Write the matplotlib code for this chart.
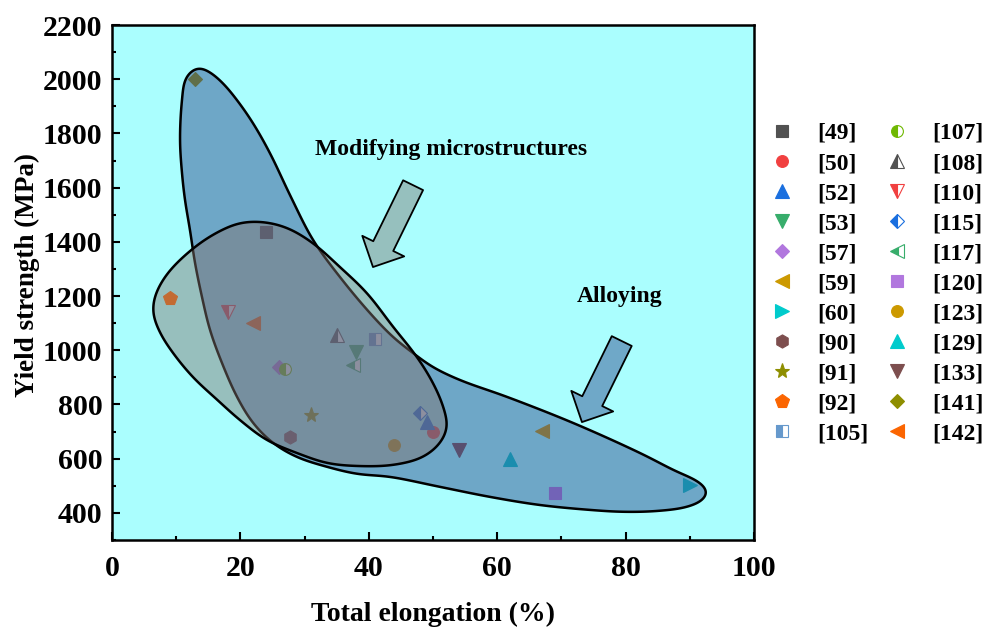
import numpy as np
import matplotlib
matplotlib.use("Agg")
import matplotlib.pyplot as plt
from matplotlib.ticker import MultipleLocator
from matplotlib.patches import Polygon, FancyArrowPatch

plt.rcParams["font.family"] = ["Liberation Serif", "DejaVu Serif"]
plt.rcParams["font.weight"] = "bold"

# --- literature data: total elongation (%) vs yield strength (MPa) ---
refs = ["[49]", "[50]", "[52]", "[53]", "[57]", "[59]", "[60]", "[90]", "[91]", "[92]", "[105]",
        "[107]", "[108]", "[110]", "[115]", "[117]", "[120]", "[123]", "[129]", "[133]", "[141]", "[142]"]
elong = [24, 50, 49, 38, 26, 67, 90, 27.7, 31, 9, 41,
         27, 35, 18, 48, 37.5, 69, 44, 62, 54, 13, 22]
strength = [1435, 700, 735, 995, 940, 702, 503, 680, 760, 1192, 1040,
            930, 1055, 1140, 770, 945, 475, 650, 600, 632, 2000, 1100]

markers = ["s", "o", "^", "v", "D", "<", ">", "h", "*", "p", "s",
           "o", "^", "v", "D", "<", "s", "o", "^", "v", "D", "<"]
colors = ["#515151", "#F14040", "#1A6FDF", "#37AD6B", "#B177DE", "#CC9900", "#00CBCC",
          "#7D4E4E", "#8E8E00", "#FB6501", "#6699CC", "#6FB802", "#515151", "#F14040",
          "#1A6FDF", "#37AD6B", "#B177DE", "#CC9900", "#00CBCC", "#7D4E4E", "#8E8E00", "#FB6501"]
fills = ["full"] * 10 + ["left"] * 6 + ["full"] * 6
sizes = {"s": 8, "D": 7.5, "o": 8.5, "*": 11, "h": 9.5, "p": 10}

# outlines of the two shaded property regions (elongation %, strength MPa)
alloy_x = [13.40, 15.26, 17.29, 19.47, 21.96, 24.61, 27.88, 31.31, 35.51, 40.19, 43.77,
           46.88, 49.98, 54.21, 61.53, 71.81, 82.24, 87.38, 91.59, 92.83, 92.06, 89.56,
           84.89, 79.60, 74.45, 66.67, 58.88, 51.09, 43.30, 38.16, 33.49, 28.82, 25.08,
           21.96, 19.47, 17.13, 15.26, 14.02, 12.93, 12.15, 11.37, 10.90, 10.59, 10.90, 11.53]
alloy_y = [2044, 2026, 1985, 1923, 1838, 1727, 1565, 1407, 1270, 1137, 1049,
           990, 938, 890, 828, 732, 621, 559, 511, 477, 448, 422,
           407, 404, 411, 429, 459, 496, 533, 544, 570, 606, 658,
           732, 828, 953, 1075, 1196, 1322, 1443, 1554, 1654, 1775, 1923, 2008]
modif_x = [23.5, 27.3, 31.3, 35.5, 39.7, 43.8, 47.5, 50.0, 51.6, 52.2, 51.1, 48.4, 43.8,
           38.2, 33.5, 28.8, 24.1, 19.9, 16.4, 12.6, 9.5, 7.5, 6.4, 6.7, 8.6, 12.6, 16.4, 19.9]
modif_y = [1473, 1451, 1395, 1307, 1211, 1086, 975, 879, 791, 717, 658, 606, 577,
           573, 584, 621, 669, 743, 817, 901, 990, 1064, 1137, 1200, 1282, 1375, 1435, 1469]

# approximate screen units per data unit, so the spline is built in an isotropic space
SX, SY = 6.42, 0.271


def closed_curve(xs, ys, n=30, alpha=0.5, sigma=6.0, m=1200):
    """Closed centripetal Catmull-Rom spline, lightly smoothed along its arc length."""
    pts = np.column_stack([np.asarray(xs) * SX, np.asarray(ys) * SY])
    N = len(pts)
    out = []
    for i in range(N):
        p0, p1, p2, p3 = pts[i - 1], pts[i], pts[(i + 1) % N], pts[(i + 2) % N]
        t0 = 0.0
        t1 = t0 + np.linalg.norm(p1 - p0) ** alpha
        t2 = t1 + np.linalg.norm(p2 - p1) ** alpha
        t3 = t2 + np.linalg.norm(p3 - p2) ** alpha
        t = np.linspace(t1, t2, n, endpoint=False)[:, None]
        a1 = (t1 - t) / (t1 - t0) * p0 + (t - t0) / (t1 - t0) * p1
        a2 = (t2 - t) / (t2 - t1) * p1 + (t - t1) / (t2 - t1) * p2
        a3 = (t3 - t) / (t3 - t2) * p2 + (t - t2) / (t3 - t2) * p3
        b1 = (t2 - t) / (t2 - t0) * a1 + (t - t0) / (t2 - t0) * a2
        b2 = (t3 - t) / (t3 - t1) * a2 + (t - t1) / (t3 - t1) * a3
        out.append((t2 - t) / (t2 - t1) * b1 + (t - t1) / (t2 - t1) * b2)
    curve = np.vstack(out)

    # resample evenly by arc length, then gaussian smoothing with wrap-around
    closed = np.vstack([curve, curve[:1]])
    s = np.r_[0, np.cumsum(np.hypot(*np.diff(closed, axis=0).T))]
    su = np.linspace(0, s[-1], m, endpoint=False)
    cx = np.interp(su, s, closed[:, 0])
    cy = np.interp(su, s, closed[:, 1])
    ds = s[-1] / m
    k = int(4 * sigma / ds)
    kern = np.exp(-0.5 * (np.arange(-k, k + 1) * ds / sigma) ** 2)
    kern /= kern.sum()
    cx = np.convolve(np.r_[cx[-k:], cx, cx[:k]], kern, mode="valid")
    cy = np.convolve(np.r_[cy[-k:], cy, cy[:k]], kern, mode="valid")
    return np.column_stack([cx / SX, cy / SY])


fig = plt.figure(figsize=(9.83, 6.28), dpi=100)
ax = fig.add_axes([0.11394, 0.14013, 0.65310, 0.82006])
ax.set_facecolor("#AAFEFE")

handles = []
for r, x, y, m, c, f in zip(refs, elong, strength, markers, colors, fills):
    h, = ax.plot([x], [y], ls="none", marker=m, ms=sizes.get(m, 10), color=c,
                 mec=c, mew=0.8, fillstyle=f, markerfacecoloralt="white",
                 label=r, zorder=2)
    handles.append(h)

alloy = closed_curve(alloy_x, alloy_y)
modif = closed_curve(modif_x, modif_y)
ax.add_patch(Polygon(alloy, closed=True, fc="#345191", alpha=0.5, ec="none", zorder=3))
ax.add_patch(Polygon(alloy, closed=True, fill=False, ec="black", lw=1.8, zorder=3))
ax.add_patch(Polygon(modif, closed=True, fc="#80736F", alpha=0.45, ec="none", zorder=4))
ax.add_patch(Polygon(modif, closed=True, fill=False, ec="black", lw=1.8, zorder=4))

arrow_style = "simple,head_length=1.05,head_width=2.1,tail_width=1.0"
ax.add_patch(FancyArrowPatch((46.9, 1609), (40.65, 1307), arrowstyle=arrow_style,
                             mutation_scale=16, fc="#96C0BE", ec="black", lw=1.3,
                             shrinkA=0, shrinkB=0, zorder=5))
ax.add_patch(FancyArrowPatch((79.4, 1034), (73.2, 735), arrowstyle=arrow_style,
                             mutation_scale=16, fc="#6FA8C8", ec="black", lw=1.3,
                             shrinkA=0, shrinkB=0, zorder=5))

ax.text(52.8, 1742, "Modifying microstructures", fontsize=17, fontweight="bold",
        ha="center", va="center", zorder=6)
ax.text(79.1, 1200, "Alloying", fontsize=17, fontweight="bold",
        ha="center", va="center", zorder=6)

ax.set_xlim(0, 100)
ax.set_ylim(300, 2200)
ax.xaxis.set_major_locator(MultipleLocator(20))
ax.xaxis.set_minor_locator(MultipleLocator(10))
ax.set_yticks(np.arange(400, 2201, 200))
ax.yaxis.set_minor_locator(MultipleLocator(100))
ax.tick_params(which="both", direction="in", width=1.5, labelsize=21.5)
ax.tick_params(which="major", length=6)
ax.tick_params(which="minor", length=3)
ax.tick_params(axis="x", pad=11)
ax.tick_params(axis="y", pad=7)
for s in ax.spines.values():
    s.set_linewidth(1.8)

ax.set_xlabel("Total elongation (%)", fontsize=20, fontweight="bold", labelpad=14)
ax.set_ylabel("Yield strength (MPa)", fontsize=19.5, fontweight="bold")
ax.yaxis.set_label_coords(-0.112, 0.515)

ax.legend(handles=handles, ncol=2, loc="upper left", bbox_to_anchor=(0.7835, 0.805),
          bbox_transform=fig.transFigure, frameon=False, fontsize=17, handlelength=1.0,
          handletextpad=0.98, columnspacing=0.73, labelspacing=0.36, borderpad=0,
          borderaxespad=0)

fig.savefig("out.png", dpi=100)
